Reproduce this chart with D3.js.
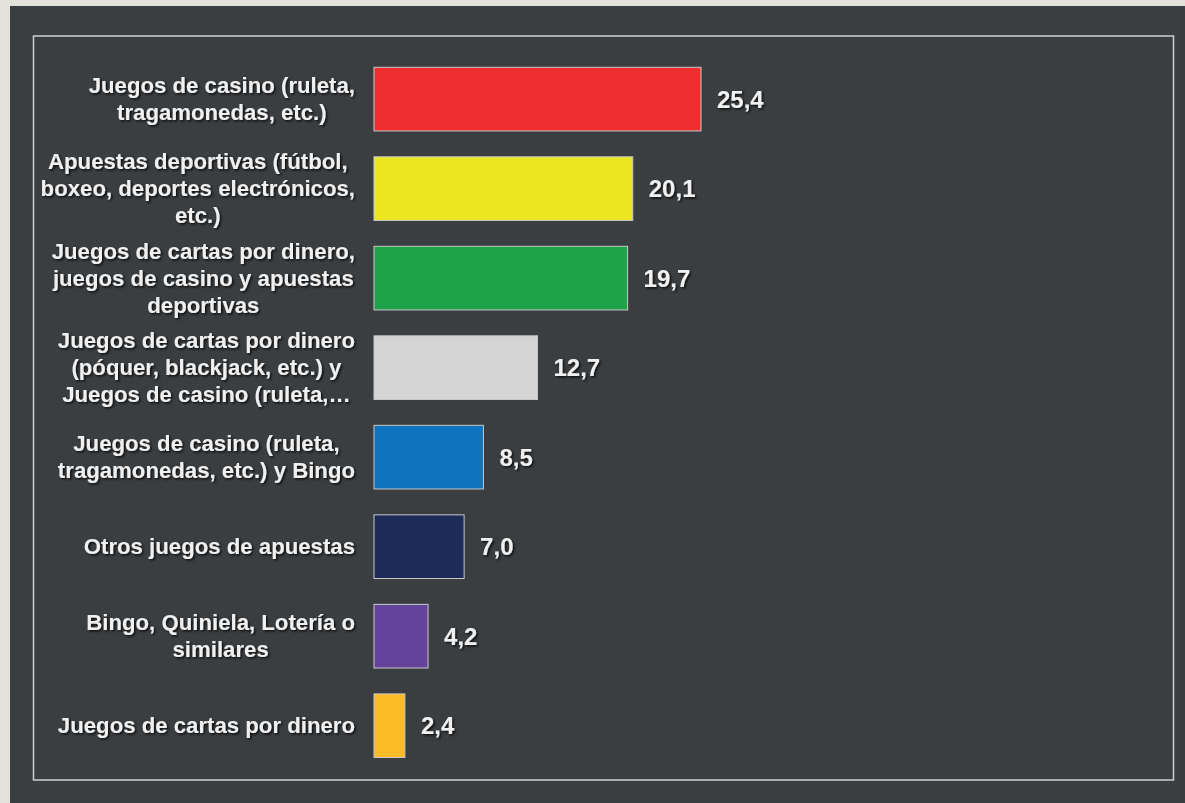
<!DOCTYPE html>
<html>
<head>
<meta charset="utf-8">
<script src="https://cdn.jsdelivr.net/npm/d3@7"></script>
<style>
  html, body { margin: 0; padding: 0; background: #e3e3dc; }
  svg { display: block; }
</style>
</head>
<body>
<svg id="chart" width="1185" height="803"></svg>
<script>
// ---- data ----
const categories = [
  ["Juegos de casino (ruleta,", "tragamonedas, etc.)"],
  ["Apuestas deportivas (fútbol,", "boxeo, deportes electrónicos,", "etc.)"],
  ["Juegos de cartas por dinero,", "juegos de casino y apuestas", "deportivas"],
  ["Juegos de cartas por dinero", "(póquer, blackjack, etc.) y", "Juegos de casino (ruleta,…"],
  ["Juegos de casino (ruleta,", "tragamonedas, etc.) y Bingo"],
  ["Otros juegos de apuestas"],
  ["Bingo, Quiniela, Lotería o", "similares"],
  ["Juegos de cartas por dinero"]
];
const values = [25.4, 20.1, 19.7, 12.7, 8.5, 7.0, 4.2, 2.4];
const valueLabels = ["25,4", "20,1", "19,7", "12,7", "8,5", "7,0", "4,2", "2,4"];
const colors = ["#ee2e2f", "#ebe61f", "#1ea34a", "#d3d4d3", "#0f73be", "#1c2b58", "#64449b", "#fbbb27"];

// ---- drawing ----
const svg = d3.select("#chart");
const W = 1185, H = 803;

const defs = svg.append("defs");
const f = defs.append("filter").attr("id", "shadow")
  .attr("x", "-10%").attr("y", "-30%").attr("width", "120%").attr("height", "160%");
f.append("feDropShadow").attr("dx", 1.5).attr("dy", 1.5).attr("stdDeviation", 1.2)
  .attr("flood-color", "#000").attr("flood-opacity", 0.8);

// background panel
svg.append("rect").attr("x", 0).attr("y", 0).attr("width", W).attr("height", H).attr("fill", "#e3e3dc");
svg.append("rect").attr("x", 10).attr("y", 6).attr("width", W - 10).attr("height", H - 6).attr("fill", "#3b3e41");
// inner frame
svg.append("rect").attr("x", 33.5).attr("y", 36).attr("width", 1140).attr("height", 744)
  .attr("fill", "none").attr("stroke", "#cfcfcf").attr("stroke-width", 1.5);

const idx = d3.range(values.length);
const y = d3.scaleBand().domain(idx).range([54.3, 770.5]).paddingInner(0.289).paddingOuter(0.145);
const x = d3.scaleLinear().domain([0, 25.4]).range([374, 701]);

// bars
svg.append("g").selectAll("rect").data(idx).join("rect")
  .attr("x", x(0))
  .attr("y", i => y(i))
  .attr("width", i => x(values[i]) - x(0))
  .attr("height", y.bandwidth())
  .attr("fill", i => colors[i])
  .attr("stroke", "#c8c8c8")
  .attr("stroke-width", 1);

// value labels
svg.append("g").selectAll("text").data(idx).join("text")
  .attr("x", i => x(values[i]) + 16)
  .attr("y", i => y(i) + y.bandwidth() / 2)
  .attr("dy", "0.35em")
  .attr("font-family", "'Liberation Sans', Arial, sans-serif")
  .attr("font-weight", "bold")
  .attr("font-size", 24)
  .attr("fill", "#f0f0f0")
  .attr("filter", "url(#shadow)")
  .text(i => valueLabels[i]);

// category labels
const lineH = 27;
const rightEdge = 355;
const labelG = svg.append("g");
idx.forEach(i => {
  const lines = categories[i];
  const cy = y(i) + y.bandwidth() / 2;
  const t = labelG.append("text")
    .attr("font-family", "'Liberation Sans', Arial, sans-serif")
    .attr("font-weight", "bold")
    .attr("font-size", 22.2)
    .attr("fill", "#f0f0f0")
    .attr("text-anchor", "middle")
    .attr("filter", "url(#shadow)");
  const spans = lines.map((ln, k) => t.append("tspan")
    .attr("y", cy + (k - (lines.length - 1) / 2) * lineH)
    .attr("dy", "0.35em")
    .text(ln));
  const maxW = d3.max(spans, s => s.node().getComputedTextLength());
  const cx = Math.max(197, rightEdge - maxW / 2);
  spans.forEach(s => s.attr("x", cx));
});
</script>
</body>
</html>
